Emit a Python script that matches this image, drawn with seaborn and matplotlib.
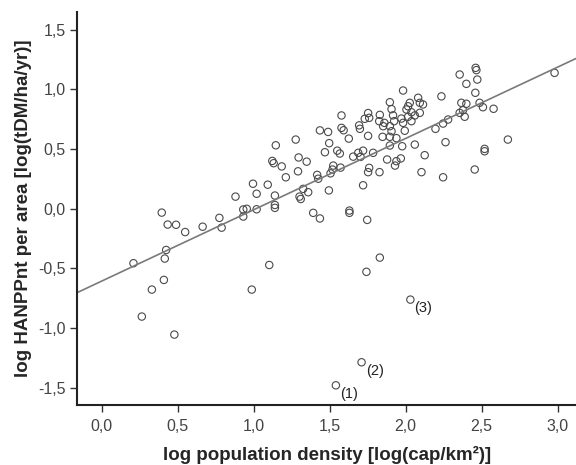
import numpy as np
import pandas as pd
import matplotlib
matplotlib.use("Agg")
import matplotlib.pyplot as plt
import seaborn as sns
from matplotlib.ticker import FuncFormatter

# log population density (x) and log HANPPnt per area (y)
log_popdens = [
    0.21, 0.265, 0.331, 0.396, 0.41, 0.416, 0.425, 0.435, 0.479, 0.49,
    0.55, 0.665, 0.775, 0.79, 0.881, 0.932, 0.932, 0.955, 0.988, 0.996,
    1.02, 1.02, 1.093, 1.103, 1.14, 1.14, 1.14, 1.123, 1.132, 1.146,
    1.185, 1.212, 1.277, 1.296, 1.292, 1.302, 1.31,
    1.326, 1.359, 1.349, 1.392, 1.436, 1.418, 1.425, 1.436, 1.49, 1.497,
    1.469, 1.495, 1.506, 1.519, 1.524, 1.55, 1.567, 1.572, 1.578, 1.578, 1.592,
    1.626, 1.63, 1.63, 1.655, 1.688, 1.694, 1.699, 1.703, 1.72, 1.72,
    1.731, 1.753, 1.76, 1.742, 1.747, 1.71, 1.541, 1.753, 1.76, 1.753,
    1.786, 1.828, 1.83, 1.826, 1.86, 1.852, 1.848, 1.83, 1.878, 1.896,
    1.907, 1.917, 1.924, 1.896, 1.907, 1.896, 1.896,
    1.939, 1.939, 1.93, 1.968, 1.977, 1.972, 1.983, 1.983, 1.994, 2.005,
    2.016, 2.027, 2.016, 2.038, 2.038, 2.06, 2.06, 2.031, 2.082, 2.093,
    2.114, 2.093, 2.104, 2.125, 2.196,
    2.235, 2.246, 2.279, 2.262, 2.246, 2.355, 2.366, 2.399, 2.377, 2.355,
    2.388, 2.399, 2.46, 2.465, 2.471, 2.458, 2.486, 2.508, 2.454, 2.519,
    2.519, 2.578, 2.672, 2.979,
]
log_hanpp = [
    -0.458, -0.905, -0.679, -0.034, -0.598, -0.419, -0.347, -0.134, -1.056, -0.136,
    -0.197, -0.152, -0.078, -0.16, 0.10, -0.008, -0.067, -0.002, -0.679, 0.208,
    0.124, -0.006, 0.20, -0.473, 0.109, 0.03, 0.006, 0.399, 0.38, 0.53,
    0.353, 0.262, 0.578, 0.428, 0.312, 0.1, 0.08,
    0.165, 0.137, 0.393, -0.036, -0.083, 0.282, 0.25, 0.655, 0.642, 0.548,
    0.472, 0.152, 0.295, 0.327, 0.36, 0.485, 0.461, 0.343, 0.78, 0.676, 0.656,
    0.586, -0.017, -0.036, 0.435, 0.467, 0.697, 0.668, 0.433, 0.485, 0.195,
    0.752, 0.80, 0.76, -0.53, -0.095, -1.288, -1.481, 0.609, 0.341, 0.305,
    0.467, 0.305, 0.785, 0.732, 0.718, 0.69, 0.601, -0.411, 0.411, 0.891,
    0.833, 0.781, 0.732, 0.69, 0.648, 0.528, 0.601,
    0.59, 0.397, 0.36, 0.42, 0.522, 0.754, 0.989, 0.718, 0.652, 0.83,
    0.857, 0.886, 0.769, 0.807, 0.732, 0.78, 0.536, -0.763, 0.928, 0.886,
    0.872, 0.802, 0.305, 0.447, 0.668,
    0.94, 0.712, 0.746, 0.556, 0.262, 1.123, 0.886, 0.878, 0.824, 0.802,
    0.769, 1.045, 1.179, 1.16, 1.081, 0.97, 0.886, 0.849, 0.327, 0.5,
    0.48, 0.836, 0.578, 1.137,
]

# labelled outliers
outlier_labels = ["(1)", "(2)", "(3)"]
outlier_x = [1.541, 1.71, 2.031]
outlier_y = [-1.481, -1.288, -0.763]

df = pd.DataFrame({"x": log_popdens, "y": log_hanpp})

sns.set_style("ticks")
plt.rcParams["font.family"] = ["Liberation Sans", "DejaVu Sans"]

fig = plt.figure(figsize=(5.76, 4.65), dpi=100)
ax = fig.add_axes([0.134, 0.128, 0.866, 0.847])

sns.scatterplot(data=df, x="x", y="y", ax=ax, s=28, facecolor="none",
                edgecolor="#4a4a4a", linewidth=0.8)

# least squares fit line across the whole plot
slope, intercept = np.polyfit(df["x"], df["y"], 1)
ax.axline((0, intercept), slope=slope, color="#7a7a7a", lw=1.2, zorder=1)

for lab, lx, ly in zip(outlier_labels, outlier_x, outlier_y):
    ax.annotate(lab, (lx, ly), xytext=(3, -9), textcoords="offset points",
                fontsize=10.5, color="#222222")

ax.set_xlim(-0.16, 3.12)
ax.set_ylim(-1.65, 1.65)
ax.set_xticks(np.arange(0, 3.01, 0.5))
ax.set_yticks(np.arange(-1.5, 1.51, 0.5))
comma = FuncFormatter(lambda v, p: f"{v:.1f}".replace(".", ",").replace("-0,0", "0,0"))
ax.xaxis.set_major_formatter(comma)
ax.yaxis.set_major_formatter(comma)
ax.tick_params(labelsize=11.5, labelcolor="#444444", length=5, width=1, color="#333333")
ax.tick_params(axis="x", pad=5)

sns.despine(ax=ax)
for sp in ("left", "bottom"):
    ax.spines[sp].set_linewidth(1.5)
    ax.spines[sp].set_color("#222222")

ax.set_xlabel("log population density [log(cap/km²)]", fontsize=13.5,
              fontweight="bold", labelpad=8)
ax.set_ylabel("log HANPPnt per area [log(tDM/ha/yr)]", fontsize=13.5,
              fontweight="bold", labelpad=4)

fig.savefig("out.png", dpi=100)
